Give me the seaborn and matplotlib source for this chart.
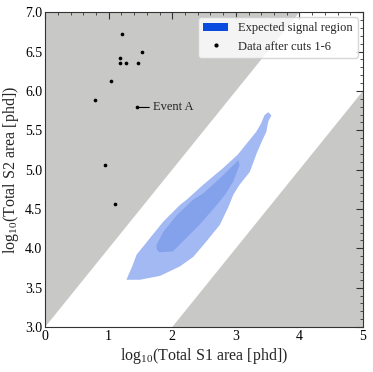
import numpy as np
import matplotlib
matplotlib.use("Agg")
import matplotlib.pyplot as plt
from matplotlib.patches import Patch
from matplotlib.lines import Line2D
from matplotlib.ticker import MultipleLocator, FormatStrFormatter
import seaborn as sns

# === Data ===
# events surviving cuts 1-6 (log10 S1, log10 S2)
data_s1 = [1.21, 1.52, 1.18, 1.18, 1.27, 1.46, 1.04, 0.78, 1.44, 0.94, 1.10]
data_s2 = [6.72, 6.50, 6.42, 6.35, 6.36, 6.35, 6.13, 5.88, 5.79, 5.06, 4.56]
event_a = (1.44, 5.79)

# region cut lines: log10(S2) = log10(S1) + intercept
upper_cut_intercept = 3.0
lower_cut_intercept = 1.0

# expected signal region, outer contour (upper edge, then lower edge)
outer_up_s1 = [1.28, 1.31, 1.36, 1.44, 1.65, 1.86, 2.12, 2.23, 2.49, 2.80,
               3.03, 3.20, 3.32, 3.40, 3.45, 3.51]
outer_up_s2 = [3.60, 3.66, 3.75, 3.92, 4.13, 4.34, 4.55, 4.62, 4.81, 5.02,
               5.19, 5.36, 5.48, 5.59, 5.69, 5.73]
outer_lo_s1 = [1.28, 1.49, 1.81, 2.12, 2.33, 2.54, 2.75, 2.88, 2.96, 3.06,
               3.22, 3.33, 3.41, 3.48, 3.51, 3.56]
outer_lo_s2 = [3.60, 3.60, 3.65, 3.77, 3.89, 4.09, 4.30, 4.52, 4.68, 4.81,
               4.97, 5.21, 5.36, 5.48, 5.61, 5.69]

# inner contour
inner_up_s1 = [1.76, 1.75, 1.86, 2.07, 2.33, 2.49, 2.75, 3.04]
inner_up_s2 = [3.98, 4.04, 4.21, 4.42, 4.62, 4.70, 4.89, 5.12]
inner_lo_s1 = [1.76, 1.80, 2.01, 2.17, 2.43, 2.70, 2.83, 2.96, 3.06, 3.04]
inner_lo_s2 = [3.98, 3.95, 3.96, 4.09, 4.30, 4.55, 4.68, 4.85, 5.06, 5.12]

x_min, x_max = 0, 5
y_min, y_max = 3.0, 7.0

# === Style ===
sns.set_theme(style="white")
plt.rcParams["font.family"] = ["Liberation Serif", "DejaVu Serif"]
plt.rcParams["mathtext.fontset"] = "custom"
plt.rcParams["mathtext.rm"] = "Liberation Serif"
plt.rcParams["mathtext.default"] = "rm"

GREY = "#c8c9c6"
LIGHT_BLUE = "#a3b9f3"
MID_BLUE = "#84a2ec"
LEGEND_BLUE = "#0a4be0"

fig = plt.figure(figsize=(3.73, 3.72), dpi=100)
ax = fig.add_axes([0.121, 0.121, 0.852, 0.846])

# excluded regions
xs = np.array([x_min, x_max])
ax.fill_between(xs, xs + upper_cut_intercept, y_max, color=GREY, lw=0, zorder=0)
ax.fill_between(xs, y_min, xs + lower_cut_intercept, color=GREY, lw=0, zorder=0)

# signal contours
ax.fill(outer_up_s1 + outer_lo_s1[::-1], outer_up_s2 + outer_lo_s2[::-1],
        color=LIGHT_BLUE, lw=0, zorder=1)
ax.fill(inner_up_s1 + inner_lo_s1[::-1], inner_up_s2 + inner_lo_s2[::-1],
        color=MID_BLUE, lw=0, zorder=2)

# data
sns.scatterplot(x=data_s1, y=data_s2, ax=ax, color="black", s=7,
                linewidth=0, zorder=3, legend=False)
ax.annotate("Event A", xy=(event_a[0] + 0.04, event_a[1]),
            xytext=(event_a[0] + 0.25, event_a[1]), va="center", ha="left",
            fontsize=9,
            arrowprops=dict(arrowstyle="-", lw=0.8, color="black",
                            shrinkA=0, shrinkB=0))

ax.set_xlim(x_min, x_max)
ax.set_ylim(y_min, y_max)
ax.set_xlabel("log$_{10}$(Total S1 area [phd])", fontsize=11.5, labelpad=2)
ax.set_ylabel("log$_{10}$(Total S2 area [phd])", fontsize=11.5, labelpad=3)

ax.xaxis.set_major_locator(MultipleLocator(1))
ax.xaxis.set_minor_locator(MultipleLocator(0.2))
ax.yaxis.set_major_locator(MultipleLocator(0.5))
ax.yaxis.set_minor_locator(MultipleLocator(0.1))
ax.yaxis.set_major_formatter(FormatStrFormatter("%.1f"))
ax.tick_params(which="both", direction="in", top=True, right=True,
               colors="#333333", labelcolor="black", labelsize=10)
ax.tick_params(which="major", length=5, width=0.8, pad=2)
ax.tick_params(which="minor", length=2.5, width=0.6)
for sp in ax.spines.values():
    sp.set_color("#333333")
    sp.set_linewidth(0.8)

handles = [Patch(facecolor=LEGEND_BLUE, edgecolor="none", label="Expected signal region"),
           Line2D([], [], ls="none", marker="o", ms=2, color="black",
                  label="Data after cuts 1-6")]
ax.legend(handles=handles, loc="upper right", fontsize=9, framealpha=0.8,
          borderaxespad=0.4, handlelength=2.0)

fig.savefig("out.png", dpi=100)
